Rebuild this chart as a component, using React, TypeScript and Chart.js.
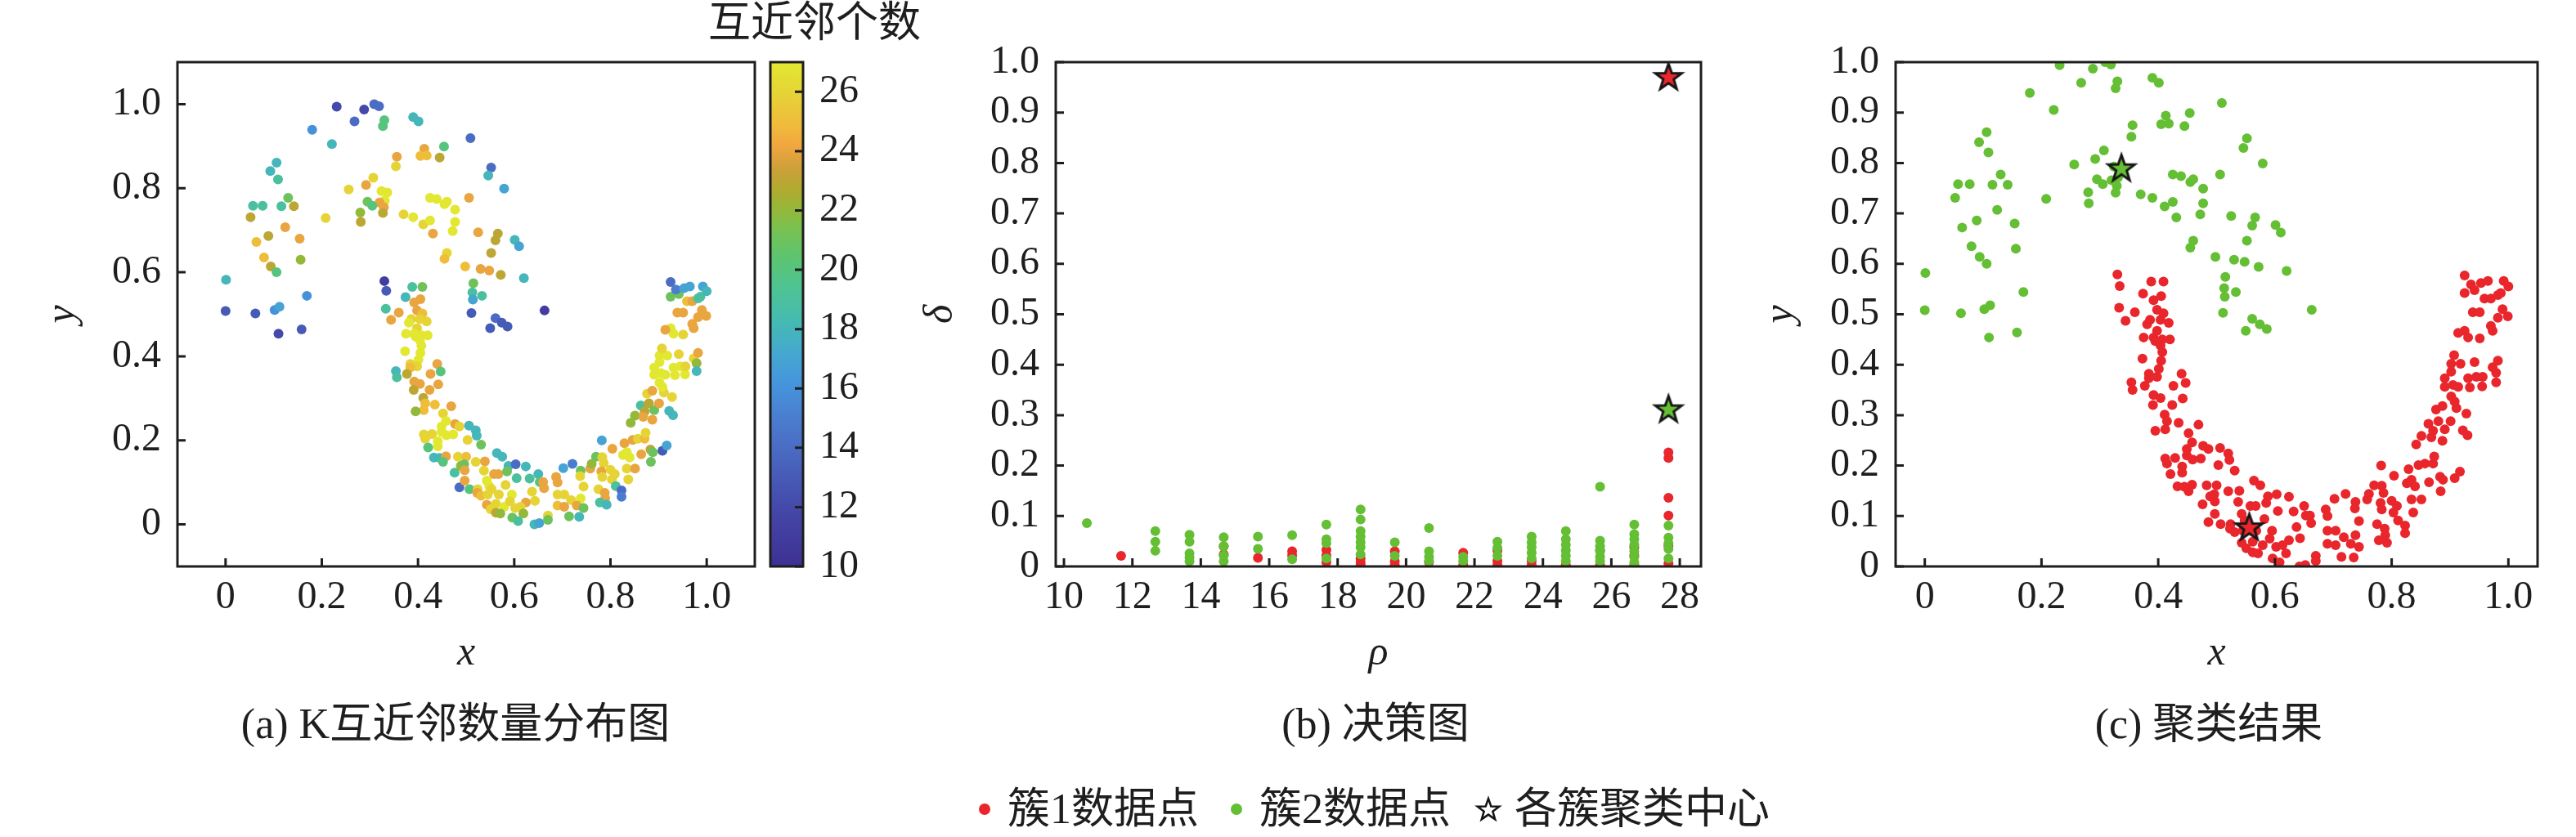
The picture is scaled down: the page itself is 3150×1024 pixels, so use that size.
import React, { useEffect, useRef } from 'react';
import { Chart, registerables } from 'chart.js';
Chart.register(...registerables);

const SERIF = "'Liberation Serif', 'Times New Roman', serif";
const MIXED = "'Liberation Serif', 'Noto Sans CJK SC', serif";
const INK = '#1e1e1e';
const RED = '#e8262b';
const GREEN = '#64bf35';

// ---- cluster 2 (upper moon): x, y, mutual-neighbour count
const upperX = [0.231,0.288,0.309,0.319,0.268,0.330,0.327,0.390,0.401,0.180,0.221,0.509,0.413,0.405,0.418,0.454,0.445,0.356,0.354,0.106,0.093,0.109,0.552,0.546,0.579,0.307,0.292,0.256,0.324,0.336,0.331,0.320,0.329,0.295,0.305,0.280,0.327,0.281,0.130,0.057,0.077,0.116,0.142,0.052,0.208,0.425,0.439,0.460,0.455,0.477,0.506,0.370,0.390,0.411,0.425,0.477,0.472,0.431,0.124,0.089,0.064,0.154,0.525,0.566,0.561,0.601,0.610,0.552,0.460,0.455,0.080,0.094,0.156,0.106,0.498,0.530,0.548,0.572,0.620,0.001,0.169,0.000,0.062,0.102,0.112,0.110,0.158,0.515,0.513,0.514,0.533,0.511,0.561,0.574,0.586,0.550,0.663];
const upperY = [0.994,0.987,1.000,0.995,0.959,0.962,0.948,0.969,0.959,0.939,0.905,0.919,0.894,0.877,0.878,0.899,0.873,0.875,0.852,0.861,0.841,0.821,0.849,0.830,0.799,0.825,0.808,0.797,0.793,0.790,0.771,0.766,0.755,0.768,0.758,0.742,0.741,0.720,0.777,0.758,0.758,0.757,0.757,0.731,0.729,0.777,0.774,0.768,0.762,0.749,0.777,0.738,0.731,0.714,0.723,0.720,0.698,0.692,0.707,0.686,0.672,0.680,0.695,0.692,0.676,0.677,0.662,0.646,0.646,0.632,0.635,0.614,0.630,0.600,0.614,0.608,0.604,0.594,0.586,0.582,0.544,0.508,0.502,0.510,0.518,0.454,0.464,0.574,0.552,0.535,0.544,0.503,0.491,0.480,0.471,0.467,0.509];
const upperK = [12,12,14,14,14,20,20,18,18,16,18,14,24,25,25,20,23,24,26,18,18,19,14,18,17,26,24,26,27,27,27,24,24,21,20,22,23,23,21,19,19,19,23,23,26,27,27,27,27,27,24,26,27,26,27,27,27,24,24,23,25,24,24,23,23,18,17,23,26,25,25,23,22,20,25,24,24,23,18,18,16,13,13,16,17,12,13,21,19,17,19,13,14,13,13,13,11];

// ---- cluster 1 (lower moon)
const lowerX = [0.330,0.334,0.388,0.409,0.374,0.392,0.405,0.333,0.360,0.344,0.398,0.409,0.386,0.404,0.418,0.381,0.398,0.375,0.392,0.407,0.420,0.404,0.395,0.407,0.373,0.405,0.401,0.384,0.398,0.384,0.354,0.356,0.377,0.440,0.447,0.426,0.392,0.404,0.391,0.424,0.442,0.411,0.415,0.435,0.412,0.395,0.469,0.452,0.458,0.477,0.486,0.506,0.520,0.522,0.449,0.449,0.412,0.429,0.459,0.473,0.415,0.441,0.503,0.441,0.421,0.531,0.433,0.445,0.458,0.452,0.483,0.500,0.520,0.539,0.564,0.575,0.476,0.489,0.496,0.497,0.537,0.588,0.603,0.624,0.486,0.507,0.497,0.524,0.523,0.531,0.543,0.548,0.558,0.567,0.553,0.545,0.568,0.585,0.582,0.595,0.605,0.632,0.650,0.653,0.660,0.662,0.637,0.643,0.624,0.543,0.562,0.579,0.591,0.602,0.613,0.551,0.562,0.571,0.596,0.608,0.619,0.642,0.652,0.670,0.670,0.687,0.690,0.702,0.721,0.738,0.737,0.744,0.690,0.704,0.718,0.738,0.690,0.704,0.730,0.744,0.714,0.735,0.758,0.761,0.770,0.783,0.786,0.781,0.783,0.775,0.788,0.789,0.778,0.792,0.782,0.804,0.800,0.809,0.803,0.811,0.823,0.823,0.829,0.834,0.826,0.840,0.834,0.837,0.851,0.846,0.857,0.871,0.873,0.864,0.883,0.888,0.884,0.908,0.917,0.842,0.851,0.863,0.871,0.880,0.891,0.887,0.901,0.868,0.876,0.887,0.911,0.928,0.922,0.930,0.902,0.908,0.891,0.905,0.914,0.934,0.955,0.891,0.902,0.931,0.945,0.956,0.973,0.979,0.979,0.982,0.942,0.902,0.918,0.907,0.951,0.925,0.931,0.914,0.973,0.970,0.982,0.999,0.990,0.939,0.951,0.959,0.970,0.925,0.942,0.982,0.987,0.925,0.936,0.953,0.965,0.992,1.000];
const lowerY = [0.579,0.556,0.565,0.565,0.541,0.528,0.536,0.513,0.504,0.487,0.509,0.502,0.489,0.489,0.483,0.480,0.467,0.454,0.454,0.450,0.450,0.438,0.447,0.425,0.412,0.408,0.392,0.382,0.376,0.373,0.365,0.350,0.358,0.382,0.364,0.358,0.340,0.334,0.320,0.320,0.333,0.301,0.288,0.285,0.272,0.269,0.281,0.264,0.246,0.239,0.233,0.235,0.224,0.211,0.233,0.220,0.214,0.215,0.212,0.214,0.204,0.198,0.201,0.186,0.183,0.190,0.159,0.158,0.162,0.149,0.161,0.161,0.149,0.150,0.170,0.161,0.123,0.139,0.143,0.129,0.128,0.139,0.143,0.138,0.088,0.084,0.104,0.084,0.075,0.068,0.104,0.091,0.120,0.120,0.084,0.071,0.071,0.126,0.094,0.071,0.110,0.109,0.120,0.101,0.101,0.086,0.078,0.056,0.052,0.047,0.049,0.042,0.055,0.039,0.042,0.036,0.028,0.026,0.016,0.008,0.026,0.000,0.003,0.021,0.011,0.113,0.100,0.134,0.144,0.128,0.115,0.090,0.071,0.071,0.058,0.062,0.045,0.042,0.045,0.039,0.019,0.018,0.133,0.144,0.161,0.160,0.146,0.126,0.113,0.084,0.075,0.062,0.052,0.047,0.200,0.180,0.130,0.120,0.107,0.091,0.081,0.066,0.193,0.172,0.165,0.159,0.133,0.107,0.133,0.201,0.204,0.204,0.218,0.167,0.178,0.172,0.149,0.175,0.188,0.242,0.259,0.283,0.269,0.288,0.272,0.249,0.288,0.256,0.311,0.318,0.314,0.303,0.270,0.260,0.337,0.327,0.356,0.360,0.356,0.355,0.357,0.373,0.386,0.373,0.376,0.376,0.395,0.384,0.365,0.408,0.405,0.402,0.402,0.419,0.452,0.467,0.454,0.463,0.467,0.477,0.493,0.496,0.510,0.504,0.504,0.531,0.531,0.542,0.548,0.538,0.542,0.577,0.559,0.562,0.566,0.566,0.555];
const lowerK = [11,13,19,21,18,24,24,19,24,24,24,25,26,26,26,27,26,27,27,27,27,27,27,27,27,27,27,26,26,25,18,19,23,24,20,24,24,24,23,24,24,23,25,25,25,22,24,26,27,24,26,18,18,18,27,27,26,26,27,27,26,27,26,27,20,21,18,18,24,20,26,25,26,24,18,18,19,22,21,24,26,18,14,18,14,20,24,26,24,25,27,27,24,24,26,26,26,21,26,27,19,19,18,20,24,24,26,26,24,24,26,27,26,26,26,26,23,22,21,19,22,18,17,26,21,24,24,17,15,21,26,26,26,26,26,27,25,24,24,21,21,18,24,22,21,26,26,24,26,26,24,24,19,18,17,24,26,26,26,19,14,15,24,27,27,27,26,26,24,24,26,25,26,24,23,21,21,13,17,22,22,19,23,23,21,24,24,24,26,24,26,26,18,18,27,27,27,27,27,27,27,27,27,27,27,26,26,22,18,24,26,27,27,26,26,27,27,24,24,24,24,24,24,24,24,25,24,21,21,19,19,14,15,17,17,17,18];

// ---- decision graph (rho, delta)
const rhoGreen = [10.67,12.67,12.67,12.67,13.67,13.67,13.67,13.67,13.67,14.67,14.67,14.67,14.67,15.67,15.67,16.67,16.67,17.67,17.67,17.67,17.67,18.67,18.67,18.67,18.67,18.67,18.67,18.67,19.67,19.67,20.67,20.67,20.67,20.67,21.67,21.67,22.67,22.67,22.67,23.67,23.67,23.67,23.67,23.67,24.67,24.67,24.67,24.67,24.67,24.67,25.67,25.67,25.67,25.67,25.67,25.67,26.67,26.67,26.67,26.67,26.67,26.67,26.67,27.67,27.67,27.67,27.67,27.67];
const deltaGreen = [0.086,0.070,0.049,0.031,0.063,0.049,0.026,0.018,0.010,0.058,0.040,0.022,0.010,0.059,0.035,0.062,0.014,0.083,0.054,0.046,0.016,0.113,0.093,0.070,0.059,0.048,0.038,0.024,0.048,0.021,0.076,0.030,0.019,0.011,0.019,0.011,0.049,0.037,0.021,0.059,0.048,0.038,0.027,0.016,0.070,0.054,0.043,0.032,0.021,0.011,0.158,0.051,0.040,0.030,0.019,0.011,0.083,0.064,0.054,0.043,0.030,0.019,0.008,0.081,0.057,0.046,0.035,0.016];
const rhoRed = [11.67,14.67,14.67,15.67,16.67,16.67,17.67,17.67,17.67,18.67,18.67,18.67,19.67,19.67,19.67,20.67,21.67,21.67,22.67,22.67,22.67,23.67,23.67,24.67,25.67,25.67,26.67,26.67,26.67,27.67,27.67,27.67,27.67,27.67,27.67];
const deltaRed = [0.021,0.040,0.024,0.017,0.030,0.022,0.033,0.022,0.008,0.016,0.008,0.003,0.030,0.010,0.003,0.008,0.027,0.003,0.032,0.011,0.003,0.011,0.003,0.003,0.032,0.003,0.038,0.022,0.003,0.226,0.215,0.136,0.101,0.041,0.006];
const centerRho = [27.67, 27.67];
const centerDelta = [0.971, 0.312];
const centerX = [0.556, 0.337];
const centerY = [0.078, 0.790];

// ---- ticks
const ticksA = [0, 0.2, 0.4, 0.6, 0.8, 1.0];
const ticksRho = [10, 12, 14, 16, 18, 20, 22, 24, 26, 28];
const ticksTenth = [0, 0.1, 0.2, 0.3, 0.4, 0.5, 0.6, 0.7, 0.8, 0.9, 1.0];
const ticksCbar = [10, 12, 14, 16, 18, 20, 22, 24, 26];

// ---- colormap (parula-like)
const cmapValues = [10, 10.4, 11.8, 12.9, 14.0, 15.1, 16.2, 17.2, 18.3, 19.4, 20.5, 21.4, 22.0, 22.7, 23.4, 24.2, 24.8, 25.9, 27.0];
const cmapColors = [[62,48,148],[63,53,151],[68,70,167],[70,89,181],[75,108,196],[74,127,208],[69,150,220],[69,168,208],[69,187,176],[78,195,147],[94,196,109],[121,193,79],[147,184,58],[176,170,48],[205,160,58],[242,166,64],[240,185,60],[230,210,55],[226,232,49]];

function cmap(v: number): string {
  const n = cmapValues.length;
  let c = cmapColors[n - 1];
  if (v <= cmapValues[0]) c = cmapColors[0];
  else {
    for (let i = 1; i < n; i++) {
      if (v <= cmapValues[i]) {
        const t = (v - cmapValues[i - 1]) / (cmapValues[i] - cmapValues[i - 1]);
        const a = cmapColors[i - 1], b = cmapColors[i];
        c = [0, 1, 2].map((j) => Math.round(a[j] + (b[j] - a[j]) * t));
        break;
      }
    }
  }
  return `rgb(${c[0]},${c[1]},${c[2]})`;
}

function starPath(cx: number, cy: number, r: number): [number, number][] {
  const pts: [number, number][] = [];
  for (let i = 0; i < 10; i++) {
    const rad = i % 2 === 0 ? r : r * 0.4;
    const ang = -Math.PI / 2 + (i * Math.PI) / 5;
    pts.push([cx + rad * Math.cos(ang), cy + rad * Math.sin(ang)]);
  }
  return pts;
}

function makeStar(fill: string, r: number, lw: number): HTMLCanvasElement {
  const size = Math.ceil(2 * r + 2 * lw + 4);
  const c = document.createElement('canvas');
  c.width = size; c.height = size;
  const ctx = c.getContext('2d')!;
  const pts = starPath(size / 2, size / 2 + 1, r);
  ctx.beginPath();
  pts.forEach(([x, y], i) => (i === 0 ? ctx.moveTo(x, y) : ctx.lineTo(x, y)));
  ctx.closePath();
  ctx.fillStyle = fill; ctx.fill();
  ctx.lineWidth = lw; ctx.strokeStyle = '#151515'; ctx.lineJoin = 'miter'; ctx.stroke();
  return c;
}

const framePlugin = {
  id: 'frameTicks',
  afterDatasetsDraw(chart: any) {
    const { ctx, chartArea: a, scales } = chart;
    ctx.save();
    ctx.strokeStyle = INK; ctx.lineWidth = 3;
    ctx.beginPath();
    scales.x.ticks.forEach((t: any) => {
      const p = scales.x.getPixelForValue(t.value);
      ctx.moveTo(p, a.bottom); ctx.lineTo(p, a.bottom - 10);
    });
    scales.y.ticks.forEach((t: any) => {
      const p = scales.y.getPixelForValue(t.value);
      ctx.moveTo(a.left, p); ctx.lineTo(a.left + 10, p);
    });
    ctx.stroke();
    ctx.strokeRect(a.left, a.top, a.right - a.left, a.bottom - a.top);
    ctx.restore();
  },
};

const colorbarPlugin = {
  id: 'colorbar',
  beforeDatasetsDraw(chart: any) {
    const { ctx, chartArea: a, scales } = chart;
    const y = scales.y;
    const lo = cmapValues[0], hi = cmapValues[cmapValues.length - 1];
    const g = ctx.createLinearGradient(0, y.getPixelForValue(lo), 0, y.getPixelForValue(hi));
    cmapValues.forEach((v, i) => {
      const c = cmapColors[i];
      g.addColorStop((v - lo) / (hi - lo), `rgb(${c[0]},${c[1]},${c[2]})`);
    });
    ctx.save();
    ctx.fillStyle = g;
    ctx.fillRect(a.left, a.top, a.right - a.left, a.bottom - a.top);
    ctx.strokeStyle = INK; ctx.lineWidth = 3;
    ctx.beginPath();
    y.ticks.forEach((t: any) => {
      const p = y.getPixelForValue(t.value);
      ctx.moveTo(a.right, p); ctx.lineTo(a.right - 10, p);
    });
    ctx.stroke();
    ctx.strokeRect(a.left, a.top, a.right - a.left, a.bottom - a.top);
    ctx.restore();
  },
};

const fmtTenth = (v: number) => (Math.abs(v) < 1e-9 ? '0' : v.toFixed(1));
const fmtInt = (v: number) => String(Math.round(v));

function axis(min: number, max: number, ticks: number[], fmt: (v: number) => string, title: string, horizontal: boolean) {
  return {
    type: 'linear' as const,
    min, max,
    position: horizontal ? 'bottom' : 'left',
    afterBuildTicks: (s: any) => { s.ticks = ticks.map((v) => ({ value: v })); },
    afterFit: (s: any) => { if (horizontal) s.height = 137; else s.width = 170; },
    grid: { display: false, drawTicks: false },
    border: { display: false },
    ticks: {
      autoSkip: false, maxRotation: 0, minRotation: 0,
      padding: horizontal ? 10 : 20,
      color: INK,
      font: { family: SERIF, size: 48 },
      callback: (v: any) => fmt(Number(v)),
    },
    title: { display: true, text: title, color: INK, padding: 0, font: { family: SERIF, size: 50, style: 'italic' as const } },
  };
}

function baseOptions(padding: any, scales: any) {
  return {
    animation: false as const,
    responsive: false,
    maintainAspectRatio: false,
    devicePixelRatio: 1,
    events: [] as any[],
    layout: { padding },
    plugins: { legend: { display: false }, tooltip: { enabled: false }, title: { display: false } },
    scales,
  };
}

const pts = (xs: number[], ys: number[]) => xs.map((x, i) => ({ x, y: ys[i] }));

function Txt(props: { x: number; y: number; size: number; children: any; align?: 'center' | 'left' }) {
  const { x, y, size, children, align = 'center' } = props;
  return (
    <div style={{
      position: 'absolute', left: x, top: y,
      transform: align === 'center' ? 'translate(-50%, -50%)' : 'translate(0, -50%)',
      fontSize: size, fontFamily: MIXED, lineHeight: 1, whiteSpace: 'nowrap', color: INK,
    }}>{children}</div>
  );
}

function LegendStar(props: { cx: number; cy: number; r: number }) {
  const { cx, cy, r } = props;
  const s = r * 2 + 8;
  const p = starPath(s / 2, s / 2 + 1, r).map(([x, y]) => `${x.toFixed(2)},${y.toFixed(2)}`).join(' ');
  return (
    <svg width={s} height={s} style={{ position: 'absolute', left: cx - s / 2, top: cy - s / 2 }}>
      <polygon points={p} fill="#fff" stroke="#151515" strokeWidth={2.5} />
    </svg>
  );
}

export default function App() {
  const refA = useRef<HTMLCanvasElement>(null);
  const refCB = useRef<HTMLCanvasElement>(null);
  const refB = useRef<HTMLCanvasElement>(null);
  const refC = useRef<HTMLCanvasElement>(null);

  useEffect(() => {
    const charts: Chart[] = [];
    const starRed = makeStar(RED, 17, 3);
    const starGreen = makeStar(GREEN, 17, 3);
    const R = 6;

    // (a)
    const allX = [...upperX, ...lowerX];
    const allY = [...upperY, ...lowerY];
    const allK = [...upperK, ...lowerK];
    const colorsA = allK.map((k) => cmap(k));
    charts.push(new Chart(refA.current!, {
      type: 'scatter',
      data: { datasets: [{ data: pts(allX, allY), backgroundColor: colorsA, borderColor: colorsA, borderWidth: 0, pointRadius: R, pointHoverRadius: R }] },
      options: baseOptions({ left: 47, top: 76, right: 7, bottom: 194 }, {
        x: axis(-0.1, 1.1, ticksA, fmtTenth, 'x', true),
        y: axis(-0.1, 1.1, ticksA, fmtTenth, 'y', false),
      }) as any,
      plugins: [framePlugin],
    }));

    // colorbar
    charts.push(new Chart(refCB.current!, {
      type: 'scatter',
      data: { datasets: [] },
      options: baseOptions({ left: 12, top: 76, right: 0, bottom: 331 }, {
        x: { type: 'linear', display: false, min: 0, max: 1 },
        y: {
          type: 'linear', position: 'right', min: 10, max: 27,
          afterBuildTicks: (s: any) => { s.ticks = ticksCbar.map((v) => ({ value: v })); },
          afterFit: (s: any) => { s.width = 148; },
          grid: { display: false, drawTicks: false },
          border: { display: false },
          ticks: { autoSkip: false, padding: 20, color: INK, font: { family: SERIF, size: 48 }, callback: (v: any) => fmtInt(Number(v)) },
        },
      }) as any,
      plugins: [colorbarPlugin],
    }));

    // (b)
    charts.push(new Chart(refB.current!, {
      type: 'scatter',
      data: {
        datasets: [
          { data: pts(centerRho, centerDelta), pointStyle: [starRed, starGreen] as any, pointRadius: 17, pointHoverRadius: 17, order: 0 },
          { data: pts(rhoGreen, deltaGreen), backgroundColor: GREEN, borderColor: GREEN, borderWidth: 0, pointRadius: R, pointHoverRadius: R, order: 1 },
          { data: pts(rhoRed, deltaRed), backgroundColor: RED, borderColor: RED, borderWidth: 0, pointRadius: R, pointHoverRadius: R, order: 2 },
        ],
      },
      options: baseOptions({ left: 0, top: 76, right: 20, bottom: 194 }, {
        x: axis(9.76, 28.62, ticksRho, fmtInt, 'ρ', true),
        y: axis(0, 1, ticksTenth, fmtTenth, 'δ', false),
      }) as any,
      plugins: [framePlugin],
    }));

    // (c)
    charts.push(new Chart(refC.current!, {
      type: 'scatter',
      data: {
        datasets: [
          { data: pts(centerX, centerY), pointStyle: [starRed, starGreen] as any, pointRadius: 17, pointHoverRadius: 17, order: 0 },
          { data: pts(upperX, upperY), backgroundColor: GREEN, borderColor: GREEN, borderWidth: 0, pointRadius: R, pointHoverRadius: R, order: 1 },
          { data: pts(lowerX, lowerY), backgroundColor: RED, borderColor: RED, borderWidth: 0, pointRadius: R, pointHoverRadius: R, order: 2 },
        ],
      },
      options: baseOptions({ left: 18, top: 76, right: 47, bottom: 194 }, {
        x: axis(-0.05, 1.05, ticksA, fmtTenth, 'x', true),
        y: axis(0, 1, ticksTenth, fmtTenth, 'y', false),
      }) as any,
      plugins: [framePlugin],
    }));

    return () => charts.forEach((c) => c.destroy());
  }, []);

  const cv = (left: number, width: number) => ({ position: 'absolute' as const, left, top: 0, width, height: 1024 });

  return (
    <div style={{ position: 'absolute', left: 0, top: 0, width: 3150, height: 1024, background: '#fff', overflow: 'hidden' }}>
      <canvas ref={refA} width={930} height={1024} style={cv(0, 930)} />
      <canvas ref={refCB} width={200} height={1024} style={cv(930, 200)} />
      <canvas ref={refB} width={979} height={1024} style={cv(1121, 979)} />
      <canvas ref={refC} width={1020} height={1024} style={cv(2130, 1020)} />

      <Txt x={996} y={28} size={52}>互近邻个数</Txt>

      <Txt x={557} y={886} size={52}>(a) K互近邻数量分布图</Txt>
      <Txt x={1682} y={886} size={52}>(b) 决策图</Txt>
      <Txt x={2701} y={886} size={52}>(c) 聚类结果</Txt>

      <div style={{ position: 'absolute', left: 1197, top: 983, width: 14, height: 14, borderRadius: '50%', background: RED }} />
      <Txt x={1232} y={990} size={52} align="left">簇1数据点</Txt>
      <div style={{ position: 'absolute', left: 1505, top: 983, width: 14, height: 14, borderRadius: '50%', background: GREEN }} />
      <Txt x={1540} y={990} size={52} align="left">簇2数据点</Txt>
      <LegendStar cx={1820} cy={990} r={14} />
      <Txt x={1852} y={990} size={52} align="left">各簇聚类中心</Txt>
    </div>
  );
}
